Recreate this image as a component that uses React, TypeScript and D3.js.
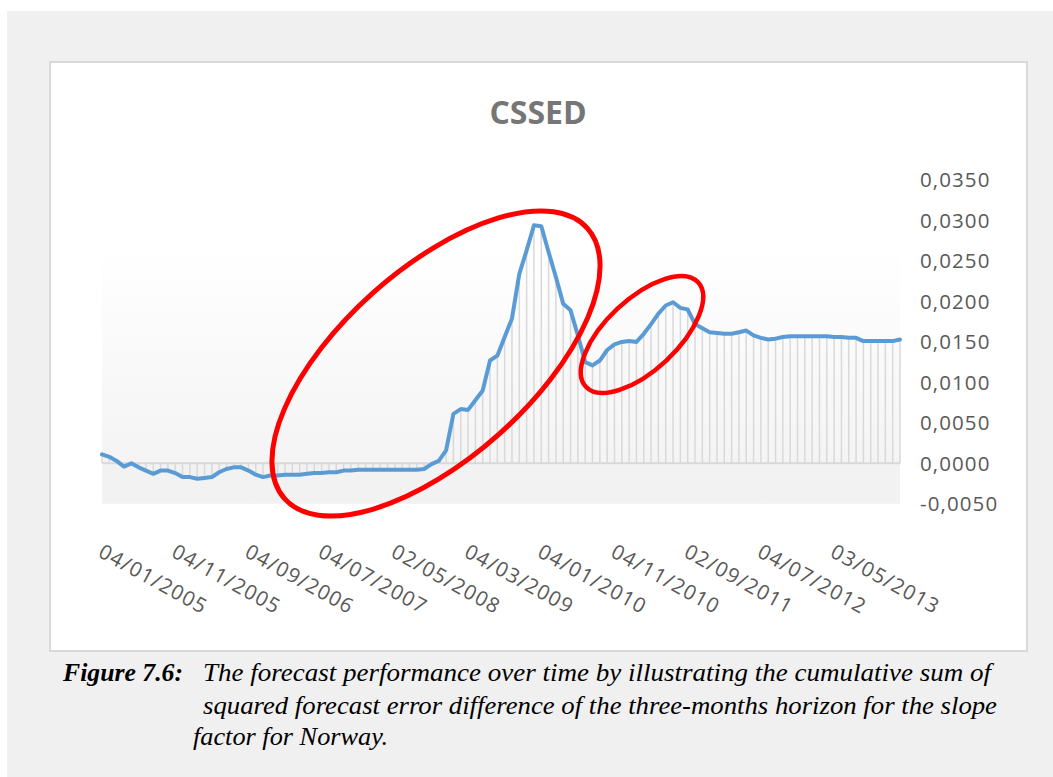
import React from "react";
import * as d3 from "d3";

// CSSED monthly values, Jan 2005 .. Feb 2014 (110 months)
const cssed: number[] = [
  0.0011, 0.0008, 0.0003, -0.0004, 0.0000, -0.0005, -0.0009, -0.0013, -0.0009, -0.0009,
  -0.0012, -0.0017, -0.0017, -0.0019, -0.0018, -0.0017, -0.0011, -0.0007, -0.0005, -0.0005,
  -0.0009, -0.0014, -0.0017, -0.0015, -0.0015, -0.0014, -0.0014, -0.0014, -0.0013, -0.0012,
  -0.0012, -0.0011, -0.0011, -0.0009, -0.0009, -0.0008, -0.0008, -0.0008, -0.0008, -0.0008,
  -0.0008, -0.0008, -0.0008, -0.0008, -0.0007, -0.0001, 0.0003, 0.0016, 0.0061, 0.0067,
  0.0066, 0.0078, 0.0090, 0.0127, 0.0133, 0.0156, 0.0179, 0.0234, 0.0263, 0.0294,
  0.0293, 0.0261, 0.0230, 0.0197, 0.0189, 0.0158, 0.0125, 0.0121, 0.0127, 0.0140,
  0.0147, 0.0150, 0.0151, 0.0150, 0.0160, 0.0172, 0.0185, 0.0195, 0.0199, 0.0192,
  0.0190, 0.0172, 0.0167, 0.0162, 0.0161, 0.0160, 0.0160, 0.0162, 0.0164, 0.0158,
  0.0155, 0.0153, 0.0154, 0.0156, 0.0157, 0.0157, 0.0157, 0.0157, 0.0157, 0.0157,
  0.0156, 0.0156, 0.0155, 0.0155, 0.0151, 0.0151, 0.0151, 0.0151, 0.0151, 0.0153,
];

// category labels shown every 10th month
const xTickLabels: string[] = [
  "04/01/2005", "04/11/2005", "04/09/2006", "04/07/2007", "02/05/2008", "04/03/2009",
  "04/01/2010", "04/11/2010", "02/09/2011", "04/07/2012", "03/05/2013",
];
const xTickEvery = 10;

const yTicks: number[] = [-0.005, 0, 0.005, 0.01, 0.015, 0.02, 0.025, 0.03, 0.035];

const title = "CSSED";
const captionBold = "Figure 7.6:";
const captionLines: string[] = [
  "The forecast performance over time by illustrating the cumulative sum of",
  "squared forecast error difference of the three-months horizon for the slope",
  "factor for Norway.",
];

const W = 1053;
const H = 777;
const PL = 102;
const PR = 900;
const PT = 180;
const PB = 503.8;

export default function App() {
  const x = d3.scaleLinear().domain([0, cssed.length - 1]).range([PL, PR]);
  const y = d3.scaleLinear().domain([-0.005, 0.035]).range([PB, PT]);
  const line = d3
    .line<number>()
    .x((_, i) => x(i))
    .y((d) => y(d));
  const fmt = (v: number) => {
    const s = Math.abs(v).toFixed(4).replace(".", ",");
    return (v < -1e-12 ? "-" : "") + s;
  };
  const bgTop = y(0.0268);
  const zeroFrac = (y(0) - bgTop) / (PB - bgTop);
  const labelFont = "'Open Sans', 'Noto Sans', sans-serif";
  const angle = 29;

  return (
    <svg
      width={W}
      height={H}
      style={{ position: "absolute", left: 0, top: 0, display: "block" }}
    >
      <defs>
        <linearGradient id="pabg" x1="0" y1="0" x2="0" y2="1">
          <stop offset="0" stopColor="#ffffff" />
          <stop offset={zeroFrac} stopColor="#f4f4f4" />
          <stop offset={zeroFrac} stopColor="#f2f2f2" />
          <stop offset="1" stopColor="#f2f2f2" />
        </linearGradient>
      </defs>
      <rect x={0} y={0} width={W} height={H} fill="#ffffff" />
      <rect x={7} y={11} width={W - 7} height={H - 11} fill="#f0f0f0" />
      <rect x={50} y={62} width={977} height={589} fill="#ffffff" stroke="#d9d9d9" strokeWidth={2} />

      {/* plot area background */}
      <rect x={PL} y={bgTop} width={PR - PL} height={PB - bgTop} fill="url(#pabg)" />

      {/* title */}
      <text
        x={538}
        y={124}
        textAnchor="middle"
        fontFamily={labelFont}
        fontWeight={700}
        fontSize={32}
        fill="#767676"
      >
        {title}
      </text>

      {/* drop lines */}
      <g stroke="#d9d9d9" strokeWidth={1.5}>
        {cssed.map((v, i) => (
          <line key={i} x1={x(i)} x2={x(i)} y1={y(0)} y2={y(v)} />
        ))}
      </g>
      {/* zero axis */}
      <line x1={PL} x2={PR} y1={y(0)} y2={y(0)} stroke="#d9d9d9" strokeWidth={2} />

      {/* series line */}
      <path
        d={line(cssed) || ""}
        fill="none"
        stroke="#5b9bd5"
        strokeWidth={4}
        strokeLinejoin="round"
        strokeLinecap="round"
      />

      {/* y axis labels on the right */}
      <g fontFamily={labelFont} fontSize={20.5} fill="#595959" letterSpacing={1.1}>
        {yTicks.map((t) => (
          <text key={t} x={920} y={y(t)} dy="0.36em" textAnchor="start">
            {fmt(t)}
          </text>
        ))}
      </g>

      {/* x axis labels rotated */}
      <g fontFamily={labelFont} fontSize={20.5} fill="#595959" letterSpacing={1.2}>
        {xTickLabels.map((lab, k) => {
          const px = x(k * xTickEvery) - 5;
          const py = 556;
          return (
            <text key={lab} x={px} y={py} transform={`rotate(${angle} ${px} ${py})`} textAnchor="start">
              {lab}
            </text>
          );
        })}
      </g>

      {/* red hand-drawn annotations */}
      <ellipse
        cx={436}
        cy={363.5}
        rx={203}
        ry={94.7}
        transform="rotate(-41.75 436 363.5)"
        fill="none"
        stroke="#ff0000"
        strokeWidth={5}
      />
      <ellipse
        cx={642}
        cy={334.5}
        rx={76.7}
        ry={35.6}
        transform="rotate(-43 642 334.5)"
        fill="none"
        stroke="#ff0000"
        strokeWidth={4.5}
      />

      {/* caption */}
      <g fontFamily="'Liberation Serif', 'Times New Roman', serif" fontSize={26} fontStyle="italic" fill="#000">
        <text x={63} y={681} fontWeight={700} textLength={120} lengthAdjust="spacingAndGlyphs">
          {captionBold}
        </text>
        <text x={203} y={681} textLength={788} lengthAdjust="spacingAndGlyphs">
          {captionLines[0]}
        </text>
        <text x={203} y={714} textLength={794} lengthAdjust="spacingAndGlyphs">
          {captionLines[1]}
        </text>
        <text x={193} y={745} textLength={195} lengthAdjust="spacingAndGlyphs">
          {captionLines[2]}
        </text>
      </g>
    </svg>
  );
}
